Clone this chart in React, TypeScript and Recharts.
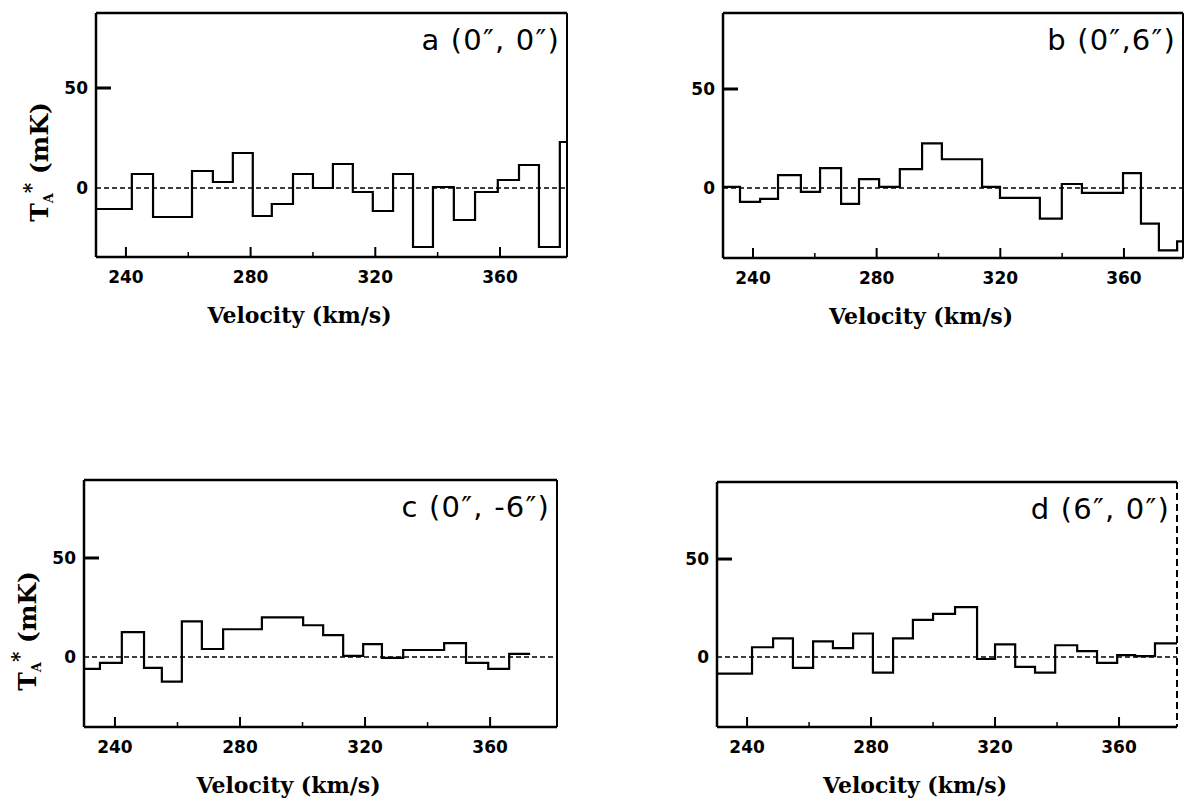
import React from 'react';
import { LineChart, Line, XAxis, YAxis, ReferenceLine } from 'recharts';

// ---- Data (velocity = channel start edge in km/s, last entry = end edge; T_A* in mK) ----
const velA = [230.4, 241.9, 248.7, 261.2, 267.9, 274.3, 280.7, 286.8, 293.6, 300.0, 306.4, 312.8, 319.2, 325.7, 332.1, 338.5, 345.2, 352.0, 359.3, 366.1, 372.5, 379.2, 381.5];
const tempA = [-10.5, 7, -14.5, 8.5, 3, 17.5, -14, -8, 7, 0, 12, -2, -11.5, 7, -29.5, 0.5, -16, -2, 4, 11.5, -29.5, 23, 23];

const velB = [230.3, 235.8, 242.3, 248.1, 255.5, 261.7, 268.5, 274.3, 280.8, 287.5, 294.7, 301.1, 314.1, 319.9, 332.8, 339.9, 346.4, 359.7, 365.5, 371.3, 377.2, 379.1];
const tempB = [0.5, -7, -5.5, 6.5, -2, 10, -8, 4.5, 0.5, 9.5, 22.5, 14.5, 0.5, -5, -15.5, 2, -2.5, 7.5, -18, -31.5, -27, -27];

const velC = [230.1, 235.2, 242.2, 249.3, 255.0, 261.4, 267.8, 274.6, 287.0, 300.2, 306.6, 313.0, 319.4, 325.4, 332.2, 345.3, 352.3, 359.4, 366.1, 372.8];
const tempC = [-6, -3, 12.5, -5.5, -12.5, 18, 4, 14, 20, 16, 11, 0.5, 6.5, -0.5, 3.5, 7, -3, -6, 1.5, 1.5];

const velD = [230.3, 241.6, 248.4, 254.8, 261.3, 267.7, 274.2, 280.6, 287.1, 293.5, 300.0, 307.1, 314.2, 320.0, 326.5, 332.9, 339.4, 346.5, 352.9, 359.4, 365.2, 371.6, 378.7];
const tempD = [-8.5, 5, 9.5, -5.5, 8, 4.5, 12, -8, 9.5, 19, 22, 25.5, -1, 6.5, -5, -8, 6, 3, -3, 1, 0.5, 7, 7];

const majorTicks = [240, 280, 320, 360];
const minorTicks = [260, 300, 340];
const yTicks = [0, 50];

const panelLabels = ['a (0\u2033, 0\u2033)', 'b (0\u2033,6\u2033)', 'c (0\u2033, -6\u2033)', 'd (6\u2033, 0\u2033)'];
const xTitle = 'Velocity (km/s)';

// ---- Layout ----
type Plot = { l: number; r: number; t: number; b: number };
type Box = { x: number; y: number; w: number; h: number };
interface PanelSpec {
  vel: number[];
  temp: number[];
  xDomain: [number, number];
  yDomain: [number, number];
  plot: Plot;
  box: Box;
  label: string;
  yLabel: boolean;
  rightDash: boolean;
}

const panels: PanelSpec[] = [
  { vel: velA, temp: tempA, xDomain: [230.4, 381.5], yDomain: [-34.5, 87.5], plot: { l: 96, r: 567, t: 13, b: 257 }, box: { x: 0, y: 0, w: 595, h: 340 }, label: panelLabels[0], yLabel: true, rightDash: false },
  { vel: velB, temp: tempB, xDomain: [230.3, 379.1], yDomain: [-35.4, 88.4], plot: { l: 723, r: 1183, t: 13, b: 258 }, box: { x: 600, y: 0, w: 589, h: 340 }, label: panelLabels[1], yLabel: false, rightDash: false },
  { vel: velC, temp: tempC, xDomain: [230.1, 381.4], yDomain: [-35.4, 89.4], plot: { l: 84, r: 557, t: 480, b: 727 }, box: { x: 0, y: 460, w: 595, h: 344 }, label: panelLabels[2], yLabel: true, rightDash: false },
  { vel: velD, temp: tempD, xDomain: [230.3, 378.7], yDomain: [-35.7, 89.3], plot: { l: 717, r: 1177, t: 482, b: 727 }, box: { x: 600, y: 460, w: 589, h: 344 }, label: panelLabels[3], yLabel: false, rightDash: true },
];

const LEFT_W = 50;
const BOTTOM_H = 40;
const TOP_H = 1;
const RIGHT_W = 1;

const tickFont = '"DejaVu Sans", sans-serif';
const serifFont = '"DejaVu Serif", serif';

const XTick = (props: any) => {
  const { x, y, payload } = props;
  const major = majorTicks.includes(payload.value);
  return (
    <g>
      <line x1={x} x2={x} y1={y} y2={y - (major ? 10 : 5)} stroke="#000" strokeWidth={major ? 2 : 1.5} />
      {major && (
        <text x={x} y={y + 26} textAnchor="middle" fontFamily={tickFont} fontWeight="bold" fontSize={17} fill="#000">
          {payload.value}
        </text>
      )}
    </g>
  );
};

const YTick = (props: any) => {
  const { x, y, payload } = props;
  return (
    <g>
      {payload.value === 50 && <line x1={x} x2={x + 15} y1={y} y2={y} stroke="#000" strokeWidth={3} />}
      <text x={x - 8} y={y} dy="0.36em" textAnchor="end" fontFamily={tickFont} fontWeight="bold" fontSize={17} fill="#000">
        {payload.value}
      </text>
    </g>
  );
};

function Panel({ p }: { p: PanelSpec }) {
  const data = p.vel.map((v, i) => ({ v, t: p.temp[i] }));
  const margin = {
    left: p.plot.l - p.box.x - LEFT_W,
    top: p.plot.t - p.box.y - TOP_H,
    right: p.box.x + p.box.w - p.plot.r - RIGHT_W,
    bottom: p.box.y + p.box.h - p.plot.b - BOTTOM_H,
  };
  return (
    <div style={{ position: 'absolute', left: p.box.x, top: p.box.y, width: p.box.w, height: p.box.h }}>
      <LineChart width={p.box.w} height={p.box.h} data={data} margin={margin}>
        <XAxis
          xAxisId="b"
          dataKey="v"
          type="number"
          domain={p.xDomain}
          allowDataOverflow
          ticks={[...majorTicks, ...minorTicks].sort((a, b) => a - b)}
          interval={0}
          height={BOTTOM_H}
          tickLine={false}
          tickSize={0}
          tickMargin={0}
          tick={<XTick />}
          axisLine={{ stroke: '#000', strokeWidth: 2.5 }}
        />
        <XAxis
          xAxisId="t"
          orientation="top"
          dataKey="v"
          type="number"
          domain={p.xDomain}
          allowDataOverflow
          height={TOP_H}
          tick={false}
          tickLine={false}
          axisLine={{ stroke: '#000', strokeWidth: 2.5 }}
        />
        <YAxis
          yAxisId="l"
          type="number"
          domain={p.yDomain}
          allowDataOverflow
          ticks={yTicks}
          interval={0}
          width={LEFT_W}
          tickLine={false}
          tickSize={0}
          tickMargin={0}
          tick={<YTick />}
          axisLine={{ stroke: '#000', strokeWidth: 2.5 }}
        />
        <YAxis
          yAxisId="r"
          orientation="right"
          type="number"
          domain={p.yDomain}
          allowDataOverflow
          width={RIGHT_W}
          tick={false}
          tickLine={false}
          axisLine={{ stroke: '#000', strokeWidth: 2, strokeDasharray: p.rightDash ? '7 4' : undefined }}
        />
        <ReferenceLine xAxisId="b" yAxisId="l" y={0} stroke="#000" strokeWidth={1.6} strokeDasharray="5 3" />
        <Line
          xAxisId="b"
          yAxisId="l"
          type="stepAfter"
          dataKey="t"
          stroke="#000"
          strokeWidth={2.2}
          dot={false}
          isAnimationActive={false}
        />
      </LineChart>
    </div>
  );
}

function Texts() {
  return (
    <svg width={1189} height={804} style={{ position: 'absolute', left: 0, top: 0, pointerEvents: 'none' }}>
      {panels.map((p, i) => {
        const zeroY = p.plot.t + (p.yDomain[1] / (p.yDomain[1] - p.yDomain[0])) * (p.plot.b - p.plot.t);
        const cx = p.plot.l - 57;
        const cy = zeroY - 26;
        return (
          <g key={i}>
            <text x={p.plot.r - 7} y={p.plot.t + 37} textAnchor="end" fontFamily={tickFont} fontSize={29} letterSpacing={1.2} fill="#000">
              {p.label}
            </text>
            <text x={(p.plot.l + p.plot.r) / 2 - 32} y={p.plot.b + 66} textAnchor="middle" fontFamily={serifFont} fontWeight="bold" fontSize={22} fill="#000">
              {xTitle}
            </text>
            {p.yLabel && (
              <text x={cx} y={cy} textAnchor="middle" transform={`rotate(-90 ${cx} ${cy})`} fontFamily={serifFont} fontWeight="bold" fontSize={25} fill="#000" dy="0.35em">
                <tspan>T</tspan>
                <tspan dy={5} fontSize={13}>A</tspan>
                <tspan dy={-15} fontSize={20}>*</tspan>
                <tspan dy={10}> (mK)</tspan>
              </text>
            )}
          </g>
        );
      })}
    </svg>
  );
}

export default function App() {
  return (
    <div style={{ position: 'absolute', left: 0, top: 0, width: 1189, height: 804, background: '#fff' }}>
      {panels.map((p, i) => (
        <Panel key={i} p={p} />
      ))}
      <Texts />
    </div>
  );
}
